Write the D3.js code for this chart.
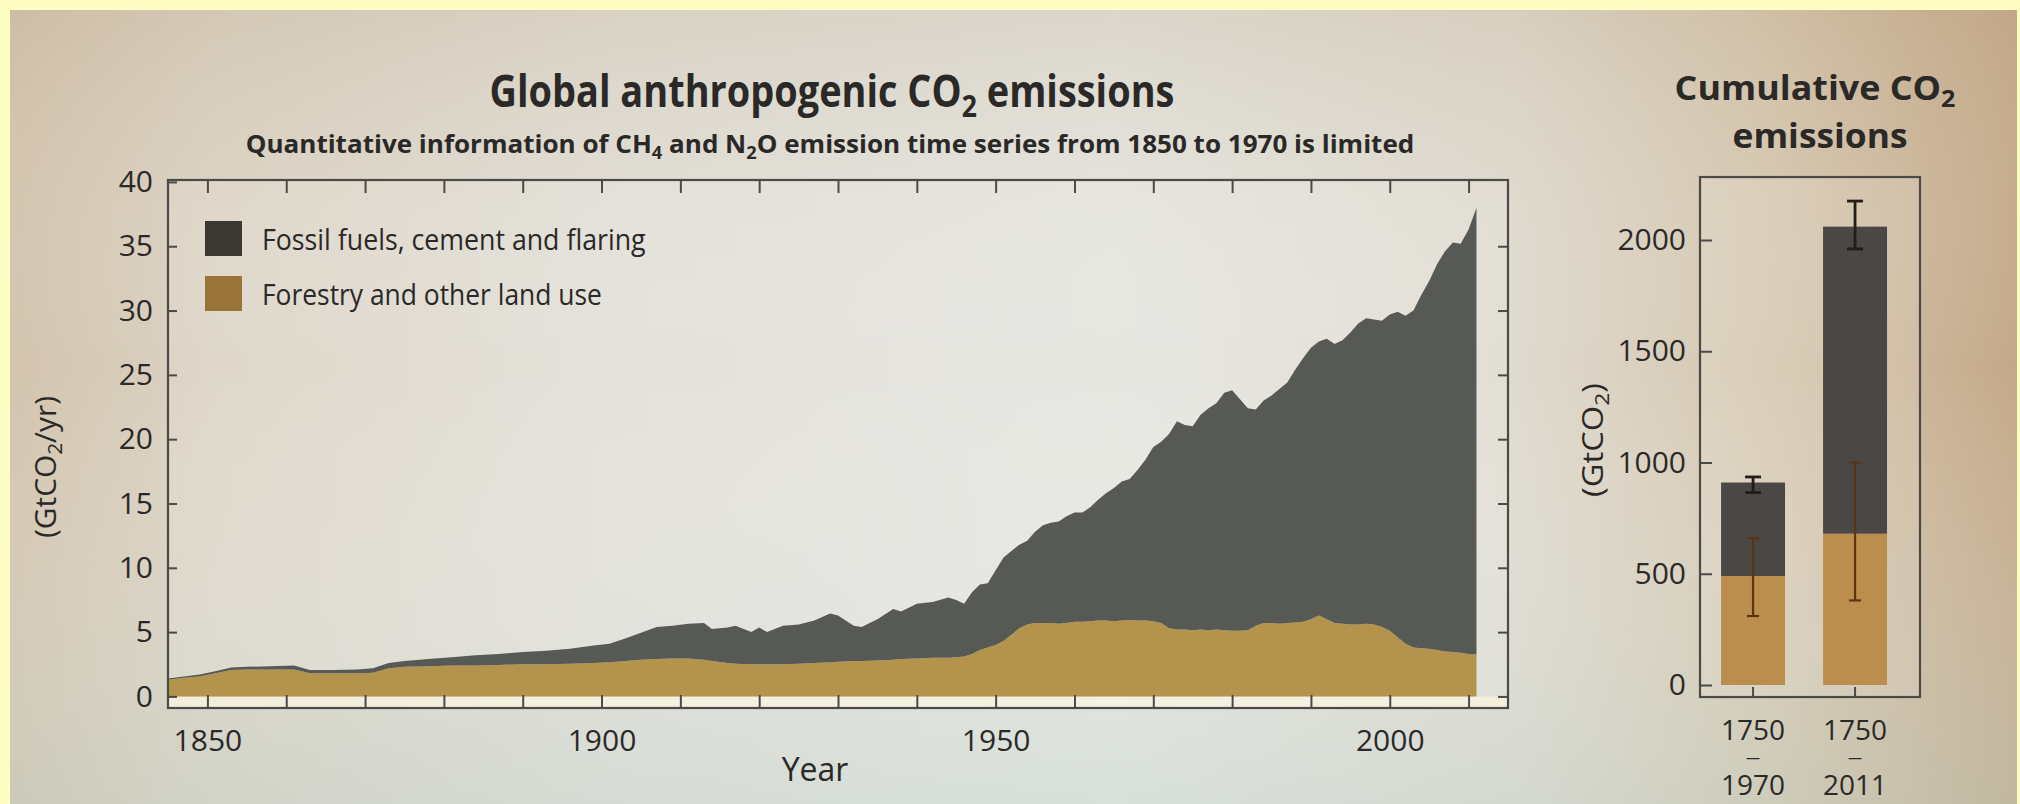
<!DOCTYPE html>
<html>
<head>
<meta charset="utf-8">
<script src="https://cdn.jsdelivr.net/npm/d3@7"></script>
<style>
  html, body { margin: 0; padding: 0; background: #fdfdc4; }
  svg { display: block; }
</style>
</head>
<body>
<svg id="chart" width="2020" height="804"></svg>
<script>
// ---- Annual global CO2 emissions (GtCO2/yr) ----
const years = [
  1845, 1847, 1849, 1851, 1853, 1855, 1858, 1861, 1863, 1866, 1869, 1871, 1873, 1875, 1878,
  1881, 1884, 1887, 1890, 1893, 1896, 1899, 1901, 1903, 1905, 1907, 1909, 1911, 1913, 1914,
  1916, 1917, 1919, 1920, 1921, 1923, 1925, 1927, 1929, 1930, 1932, 1933, 1935, 1937, 1938,
  1940, 1942, 1944, 1945, 1946, 1947, 1948, 1949, 1950, 1951, 1952, 1953, 1954, 1955, 1956,
  1957, 1958, 1959, 1960, 1961, 1962, 1963, 1964, 1965, 1966, 1967, 1968, 1969, 1970, 1971,
  1972, 1973, 1974, 1975, 1976, 1977, 1978, 1979, 1980, 1981, 1982, 1983, 1984, 1985, 1986,
  1987, 1988, 1989, 1990, 1991, 1992, 1993, 1994, 1995, 1996, 1997, 1998, 1999, 2000, 2001,
  2002, 2003, 2004, 2005, 2006, 2007, 2008, 2009, 2010, 2011
];
const forestry = [
  1.3, 1.45, 1.55, 1.8, 2.05, 2.1, 2.1, 2.1, 1.8, 1.8, 1.8, 1.85, 2.2, 2.3, 2.35,
  2.4, 2.4, 2.45, 2.5, 2.5, 2.55, 2.6, 2.65, 2.75, 2.85, 2.9, 2.95, 2.95, 2.85, 2.75,
  2.6, 2.55, 2.5, 2.5, 2.5, 2.5, 2.55, 2.6, 2.65, 2.7, 2.75, 2.75, 2.8, 2.85, 2.9,
  2.95, 3.0, 3.0, 3.05, 3.1, 3.3, 3.6, 3.8, 4.0, 4.3, 4.8, 5.3, 5.6, 5.7, 5.7,
  5.7, 5.65, 5.7, 5.8, 5.8, 5.85, 5.9, 5.9, 5.85, 5.9, 5.95, 5.9, 5.9, 5.85, 5.7,
  5.3, 5.2, 5.2, 5.15, 5.2, 5.15, 5.2, 5.15, 5.1, 5.1, 5.15, 5.5, 5.7, 5.7, 5.65,
  5.7, 5.75, 5.8, 6.0, 6.3, 6.0, 5.7, 5.65, 5.6, 5.6, 5.65, 5.6, 5.4, 5.1, 4.6,
  4.1, 3.8, 3.75, 3.7, 3.6, 3.5, 3.45, 3.4, 3.3, 3.25
];
const fossil = [
  0.1, 0.1, 0.15, 0.15, 0.2, 0.2, 0.25, 0.3, 0.25, 0.25, 0.3, 0.35, 0.4, 0.45, 0.55,
  0.65, 0.8, 0.85, 0.95, 1.05, 1.15, 1.35, 1.45, 1.75, 2.1, 2.5, 2.55, 2.7, 2.85, 2.5,
  2.75, 2.95, 2.5, 2.85, 2.5, 3.0, 3.05, 3.3, 3.8, 3.6, 2.75, 2.65, 3.2, 3.95, 3.7,
  4.25, 4.35, 4.7, 4.45, 4.1, 4.8, 5.1, 5.0, 5.8, 6.5, 6.5, 6.5, 6.5, 7.1, 7.6,
  7.8, 7.95, 8.3, 8.5, 8.5, 8.85, 9.4, 9.9, 10.35, 10.8, 10.95, 11.7, 12.5, 13.55, 14.1,
  15.1, 16.2, 15.9, 15.85, 16.7, 17.25, 17.6, 18.45, 18.7, 18.0, 17.25, 16.8, 17.3, 17.7, 18.25,
  18.7, 19.65, 20.5, 21.1, 21.3, 21.8, 21.7, 22.05, 22.7, 23.4, 23.75, 23.7, 23.8, 24.6, 25.3,
  25.5, 26.2, 27.45, 28.6, 30.0, 31.1, 31.85, 31.8, 33.0, 34.75
];
const yearTicks = [1850, 1860, 1870, 1880, 1890, 1900, 1910, 1920, 1930, 1940,
                   1950, 1960, 1970, 1980, 1990, 2000, 2010];
const yearLabels = [1850, 1900, 1950, 2000];
const rateTicks = [0, 5, 10, 15, 20, 25, 30, 35, 40];

// ---- Cumulative CO2 emissions (GtCO2) ----
const periods = ["1750–1970", "1750–2011"];
const periodLines = [["1750", "—", "1970"], ["1750", "—", "2011"]];
const cumForestry = [490, 680];
const cumFossil = [420, 1380];
const cumTotalRange = [[865, 935], [1960, 2175]];
const cumForestryRange = [[310, 660], [380, 1000]];
const cumTicks = [0, 500, 1000, 1500, 2000];

// ---- styling ----
const FONT = "'Open Sans','Noto Sans','DejaVu Sans',sans-serif";
const INK = "#2a2927";
const FRAME = "#4b4a46";
const C_FOSSIL = "#575955";
const C_FOREST = "#b4934c";
const C_FOSSIL_KEY = "#3b3733";
const C_FOREST_KEY = "#98733a";
const C_BAR_FOSSIL = "#4a4744";
const C_BAR_FOREST = "#bc8e4e";

const svg = d3.select("#chart");
const defs = svg.append("defs");

// paper background
const gh = defs.append("linearGradient").attr("id", "paperH").attr("x1", 0).attr("x2", 1).attr("y1", 0).attr("y2", 0);
[[0, "#d3c4ae"], [0.1, "#dbd2c3"], [0.3, "#e1ded6"], [0.55, "#e4e4de"], [0.75, "#dfdacf"],
 [0.88, "#d5c6ae"], [1, "#c4a989"]].forEach(([o, c]) => gh.append("stop").attr("offset", o).attr("stop-color", c));
const gv = defs.append("linearGradient").attr("id", "paperV").attr("x1", 0).attr("x2", 0).attr("y1", 0).attr("y2", 1);
[[0, "rgb(185,160,125)", 0.2], [0.45, "rgb(255,255,255)", 0], [1, "rgb(190,215,210)", 0.32]]
  .forEach(([o, c, a]) => gv.append("stop").attr("offset", o).attr("stop-color", c).attr("stop-opacity", a));

svg.append("rect").attr("x", 10).attr("y", 10).attr("width", 2007).attr("height", 794).attr("fill", "url(#paperH)");
svg.append("rect").attr("x", 10).attr("y", 10).attr("width", 2007).attr("height", 794).attr("fill", "url(#paperV)");

// Text with optional subscripts, squeezed horizontally to a given width
function richText(parent, parts, o) {
  const g = parent.append("g");
  const t = g.append("text")
    .attr("x", 0).attr("y", 0)
    .attr("text-anchor", o.anchor || "middle")
    .attr("font-family", FONT)
    .attr("font-size", o.size)
    .attr("font-weight", o.weight || 400)
    .attr("fill", o.fill || INK);
  const shift = o.size * 0.22;
  let prevSub = false;
  parts.forEach(p => {
    const sub = Array.isArray(p);
    const s = sub ? p[0] : p;
    const ts = t.append("tspan").text(s);
    if (sub) ts.attr("font-size", o.size * 0.7).attr("dy", shift);
    else if (prevSub) ts.attr("dy", -shift);
    prevSub = sub;
  });
  let sx = 1;
  if (o.len) sx = o.len / t.node().getBBox().width;
  g.attr("transform", `translate(${o.x},${o.y})` + (o.rotate ? ` rotate(${o.rotate})` : "") + ` scale(${sx},1)`);
  return g;
}

// ================= Annual emissions panel =================
const x = d3.scaleLinear().domain([1845, 2015]).range([168, 1508]);
const y = d3.scaleLinear().domain([-0.9, 40.15]).range([708, 180]);

const main = svg.append("g");

main.append("rect")
  .attr("x", x(1845)).attr("y", y(40.15))
  .attr("width", x(2015) - x(1845)).attr("height", y(-0.9) - y(40.15))
  .attr("fill", "#ffffff").attr("fill-opacity", 0.12);
main.append("rect")
  .attr("x", x(1845)).attr("y", y(0))
  .attr("width", x(2015) - x(1845)).attr("height", y(-0.9) - y(0))
  .attr("fill", "#fbf4df").attr("fill-opacity", 0.75);

const rows = years.map((yr, i) => ({ year: yr, forestry: forestry[i], fossil: fossil[i] }));
const layers = d3.stack().keys(["forestry", "fossil"])(rows);
const area = d3.area()
  .x(d => x(d.data.year))
  .y0(d => y(d[0]))
  .y1(d => y(d[1]));
const layerColor = { forestry: C_FOREST, fossil: C_FOSSIL };
main.selectAll("path.layer").data(layers).join("path")
  .attr("class", "layer")
  .attr("d", area)
  .attr("fill", d => layerColor[d.key]);

// axes with inward ticks
const axBottom = main.append("g").attr("transform", `translate(0,${y(-0.9)})`)
  .call(d3.axisBottom(x).tickValues(yearTicks).tickSizeInner(-13).tickSizeOuter(0).tickPadding(22)
    .tickFormat(d => yearLabels.includes(d) ? d : ""));
const axTop = main.append("g").attr("transform", `translate(0,${y(40.15)})`)
  .call(d3.axisTop(x).tickValues(yearTicks).tickSizeInner(-13).tickSizeOuter(0).tickFormat(""));
const axLeft = main.append("g").attr("transform", `translate(${x(1845)},0)`)
  .call(d3.axisLeft(y).tickValues(rateTicks).tickSizeInner(-9).tickSizeOuter(0).tickPadding(15));
const axRight = main.append("g").attr("transform", `translate(${x(2015)},0)`)
  .call(d3.axisRight(y).tickValues(rateTicks.slice(0, -1)).tickSizeInner(-10).tickSizeOuter(0).tickFormat(""));

[axBottom, axTop, axLeft, axRight].forEach(g => {
  g.select(".domain").remove();
  g.selectAll(".tick line").attr("stroke", FRAME).attr("stroke-width", 2);
  g.selectAll(".tick text").attr("font-family", FONT).attr("font-size", 30)
    .attr("font-weight", 500).attr("fill", INK);
});

main.append("rect")
  .attr("x", x(1845)).attr("y", y(40.15))
  .attr("width", x(2015) - x(1845)).attr("height", y(-0.9) - y(40.15))
  .attr("fill", "none").attr("stroke", FRAME).attr("stroke-width", 2.2);

// titles
richText(svg, ["Global anthropogenic CO", ["2"], " emissions"],
  { x: 832, y: 107, size: 44, weight: 700, len: 685 });
richText(svg, ["Quantitative information of CH", ["4"], " and N", ["2"], "O emission time series from 1850 to 1970 is limited"],
  { x: 830, y: 153, size: 25, weight: 700, len: 1169 });

// axis titles
richText(svg, ["Year"], { x: 815, y: 781, size: 32, weight: 500 });
richText(svg, ["(GtCO", ["2"], "/yr)"], { x: 56, y: 467, size: 29, weight: 500, rotate: -90, len: 142 });

// legend
const legend = [
  { label: "Fossil fuels, cement and flaring", color: C_FOSSIL_KEY, y: 221, len: 384 },
  { label: "Forestry and other land use", color: C_FOREST_KEY, y: 276, len: 340 }
];
const lg = svg.append("g");
lg.selectAll("rect").data(legend).join("rect")
  .attr("x", 205).attr("y", d => d.y).attr("width", 37).attr("height", 35)
  .attr("fill", d => d.color);
legend.forEach(d => richText(lg, [d.label], { x: 262, y: d.y + 29, size: 29, weight: 500, anchor: "start", len: d.len }));

// ================= Cumulative emissions panel =================
const xb = d3.scaleBand().domain(periods).range([1700, 1920])
  .paddingInner(0.373).paddingOuter(0.265).align(0.39);
const yb = d3.scaleLinear().domain([0, 2000]).range([685, 240]);
const cum = svg.append("g");

cum.append("rect")
  .attr("x", 1700).attr("y", yb(2283)).attr("width", 220).attr("height", yb(-54) - yb(2283))
  .attr("fill", "#ffffff").attr("fill-opacity", 0.12);

const barRows = periods.map((p, i) => ({ period: p, forestry: cumForestry[i], fossil: cumFossil[i] }));
const barLayers = d3.stack().keys(["forestry", "fossil"])(barRows);
const barColor = { forestry: C_BAR_FOREST, fossil: C_BAR_FOSSIL };
cum.selectAll("g.bars").data(barLayers).join("g")
  .attr("class", "bars")
  .attr("fill", d => barColor[d.key])
  .selectAll("rect").data(d => d).join("rect")
  .attr("x", d => xb(d.data.period))
  .attr("width", xb.bandwidth())
  .attr("y", d => yb(d[1]))
  .attr("height", d => yb(d[0]) - yb(d[1]));

function errorBar(cx, lo, hi, color, w, cap) {
  const g = cum.append("g").attr("stroke", color).attr("stroke-width", w).attr("fill", "none");
  g.append("line").attr("x1", cx).attr("x2", cx).attr("y1", yb(lo)).attr("y2", yb(hi));
  g.append("line").attr("x1", cx - cap).attr("x2", cx + cap).attr("y1", yb(lo)).attr("y2", yb(lo));
  g.append("line").attr("x1", cx - cap).attr("x2", cx + cap).attr("y1", yb(hi)).attr("y2", yb(hi));
}
periods.forEach((p, i) => {
  const cx = xb(p) + xb.bandwidth() / 2;
  errorBar(cx, cumForestryRange[i][0], cumForestryRange[i][1], "#5b3512", 2.2, 6);
  errorBar(cx, cumTotalRange[i][0], cumTotalRange[i][1], "#221d19", 2.8, 8);
});

const cbLeft = cum.append("g").attr("transform", "translate(1700,0)")
  .call(d3.axisLeft(yb).tickValues(cumTicks).tickSizeInner(-12).tickSizeOuter(0).tickPadding(14)
    .tickFormat(d3.format("d")));
cbLeft.select(".domain").remove();
cbLeft.selectAll(".tick line").attr("stroke", FRAME).attr("stroke-width", 2);
cbLeft.selectAll(".tick text").attr("font-family", FONT).attr("font-size", 30)
  .attr("font-weight", 500).attr("fill", INK);

const cbBottom = cum.append("g").attr("transform", `translate(0,${yb(-54)})`)
  .call(d3.axisBottom(xb).tickSizeInner(-10).tickSizeOuter(0).tickFormat(""));
cbBottom.select(".domain").remove();
cbBottom.selectAll(".tick line").attr("stroke", FRAME).attr("stroke-width", 2);

cum.append("rect")
  .attr("x", 1700).attr("y", yb(2283)).attr("width", 220).attr("height", yb(-54) - yb(2283))
  .attr("fill", "none").attr("stroke", FRAME).attr("stroke-width", 2.2);

// period labels: start year, dash, end year
const lineY = [740, 763, 795];
const lineSize = [28, 14, 28];
periods.forEach((p, i) => {
  const cx = xb(p) + xb.bandwidth() / 2;
  periodLines[i].forEach((s, k) => {
    cum.append("text").attr("x", cx).attr("y", lineY[k])
      .attr("text-anchor", "middle").attr("font-family", FONT)
      .attr("font-size", lineSize[k]).attr("font-weight", 500).attr("fill", INK)
      .text(s);
  });
});

richText(svg, ["Cumulative CO", ["2"]], { x: 1815, y: 100, size: 34, weight: 700, len: 281 });
richText(svg, ["emissions"], { x: 1820, y: 148, size: 34, weight: 700, len: 175 });
richText(svg, ["(GtCO", ["2"], ")"], { x: 1603, y: 440, size: 29, weight: 500, rotate: -90, len: 114 });
</script>
</body>
</html>
